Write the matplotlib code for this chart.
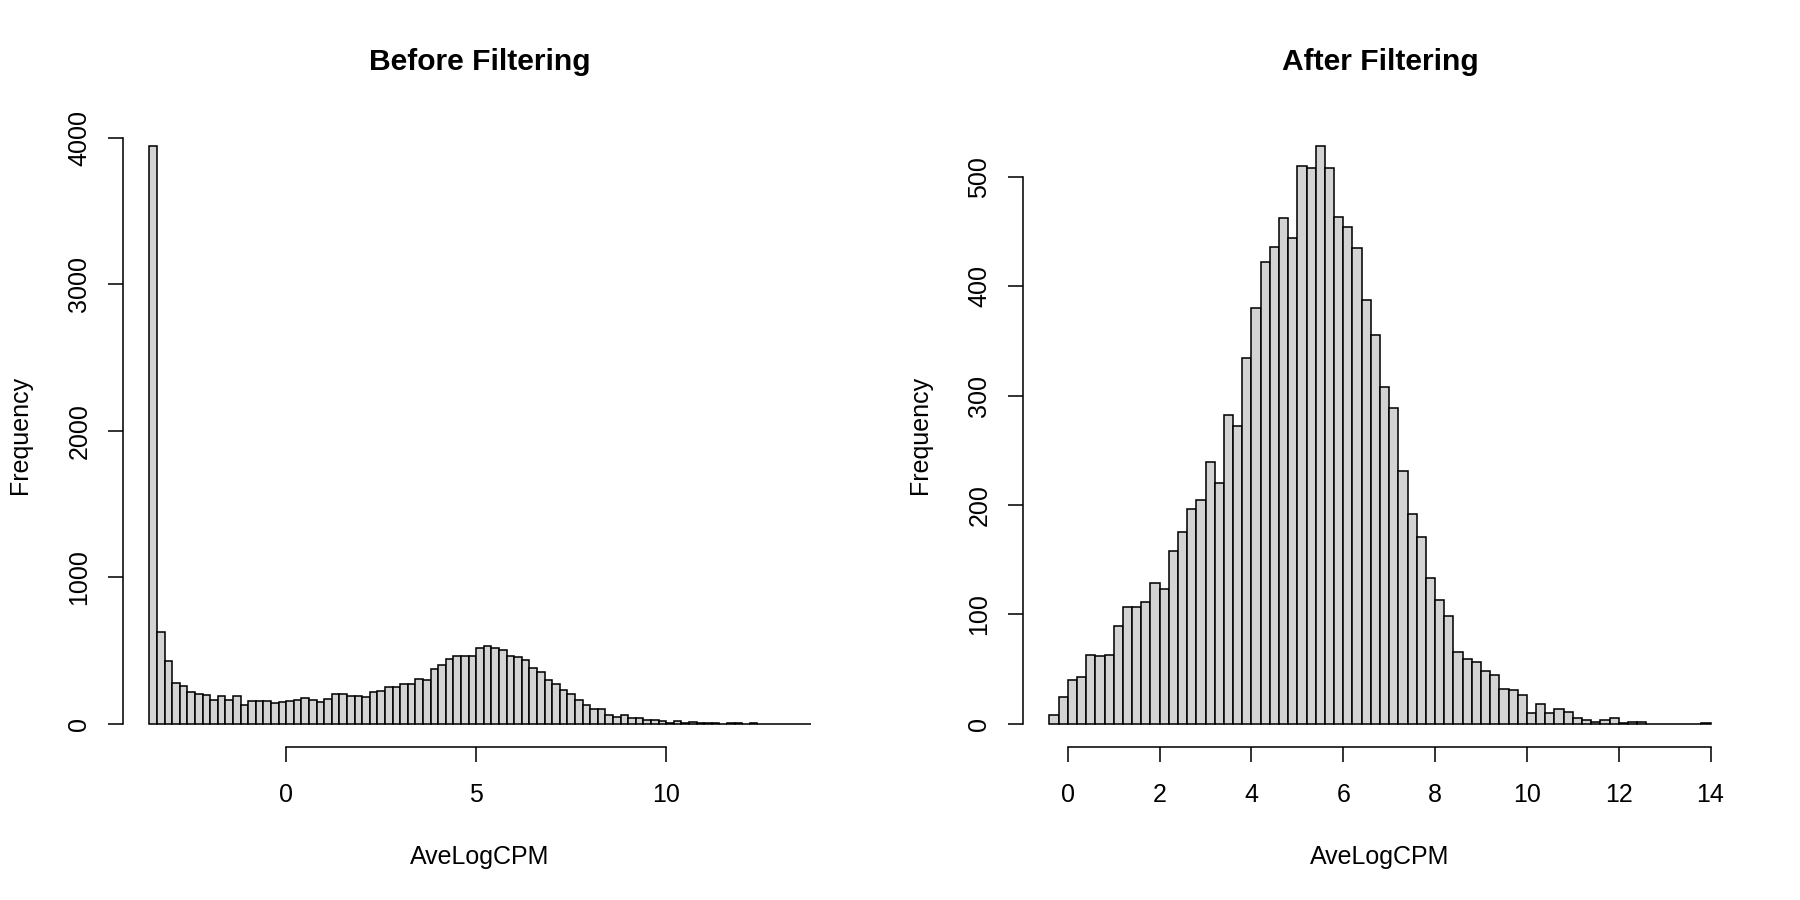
import matplotlib
matplotlib.use("Agg")
import matplotlib.pyplot as plt
import numpy as np

plt.rcParams['font.family'] = ['Liberation Sans', 'DejaVu Sans']

# ---- data ----
before_start = -3.6
before_width = 0.2
before_counts = [
    3944, 630, 426, 276, 256, 220, 204, 195, 161, 190,
    163, 188, 129, 159, 156, 154, 140, 147, 154, 165,
    179, 163, 149, 172, 202, 206, 192, 192, 183, 215,
    224, 251, 249, 272, 269, 308, 303, 376, 401, 442,
    462, 466, 462, 516, 530, 516, 507, 462, 455, 433,
    383, 356, 301, 269, 231, 202, 163, 127, 100, 100,
    63, 48, 63, 43, 41, 27, 29, 20, 9, 18,
    9, 11, 5, 5, 4, 1, 4, 4, 1, 3,
    1, 1, 1, 0, 1, 0, 1,
]
before_xticks = [0, 5, 10]
before_yticks = [0, 1000, 2000, 3000, 4000]

after_start = -0.4
after_width = 0.2
after_counts = [
    8, 25, 40, 43, 63, 62, 63, 89, 107, 107,
    111, 129, 123, 158, 175, 196, 205, 239, 220, 282,
    272, 334, 380, 422, 436, 462, 444, 510, 508, 528,
    508, 463, 454, 435, 387, 355, 308, 289, 231, 192,
    171, 133, 113, 99, 66, 59, 57, 48, 45, 32,
    31, 26, 10, 18, 10, 14, 11, 5, 4, 2,
    4, 5, 1, 2, 2, 0, 0, 0, 0, 0,
    0, 1,
]
after_xticks = [0, 2, 4, 6, 8, 10, 12, 14]
after_yticks = [0, 100, 200, 300, 400, 500]

titles = ["Before Filtering", "After Filtering"]
xlabel = "AveLogCPM"
ylabel = "Frequency"

# ---- figure (R-like layout: 12x6 in at 150 dpi, mar = c(5,4,4,2)+0.1) ----
W, H = 12.0, 6.0
fig = plt.figure(figsize=(W, H), dpi=150)
line = 0.2  # inches per margin line
mar_b, mar_l, mar_t, mar_r = 5.1 * line, 4.1 * line, 4.1 * line, 2.1 * line
panel_w = W / 2


def draw(panel, start, width, counts, xticks, yticks, title):
    counts = np.asarray(counts, dtype=float)
    edges = start + width * np.arange(len(counts) + 1)
    left = panel * panel_w + mar_l
    ax = fig.add_axes([left / W, mar_b / H,
                       (panel_w - mar_l - mar_r) / W,
                       (H - mar_b - mar_t) / H])
    ax.bar(edges[:-1], counts, width=width, align='edge',
           color='#D3D3D3', edgecolor='black', linewidth=0.75)
    # R style 4% axis extension
    x0, x1 = edges[0], edges[-1]
    dx = 0.04 * (x1 - x0)
    y1 = counts.max()
    dy = 0.04 * y1
    ax.set_xlim(x0 - dx, x1 + dx)
    ax.set_ylim(-dy, y1 + dy)

    for s in ['top', 'right']:
        ax.spines[s].set_visible(False)
    ax.spines['left'].set_bounds(yticks[0], yticks[-1])
    ax.spines['bottom'].set_bounds(xticks[0], xticks[-1])
    for s in ['left', 'bottom']:
        ax.spines[s].set_linewidth(0.75)
    ax.set_xticks(xticks)
    ax.set_yticks(yticks)
    ax.set_xticklabels([str(v) for v in xticks])
    ax.set_yticklabels([str(v) for v in yticks])
    ax.tick_params(axis='both', direction='out', length=7.2, width=0.75,
                   labelsize=12, colors='black')
    ax.tick_params(axis='x', pad=10)
    ax.tick_params(axis='y', pad=8)
    for lab in ax.get_yticklabels():
        lab.set_rotation(90)
        lab.set_va('center')
        lab.set_ha('right')

    cx = (left + (panel_w - mar_r)) / 2 if False else (left + panel * panel_w + panel_w - mar_r) / 2
    fig.text(cx / W, 1 - 62 / 900, title, ha='center', va='center',
             fontsize=14.4, fontweight='bold')
    fig.text(cx / W, 1 - 857 / 900, xlabel, ha='center', va='center', fontsize=12)
    fig.text((panel * 900 + 19.6) / 1800, mar_b / H + (H - mar_b - mar_t) / H / 2,
             ylabel, ha='center', va='center', rotation=90, fontsize=12)
    return ax


draw(0, before_start, before_width, before_counts, before_xticks, before_yticks, titles[0])
draw(1, after_start, after_width, after_counts, after_xticks, after_yticks, titles[1])

fig.savefig("out.png", dpi=150, facecolor='white')
